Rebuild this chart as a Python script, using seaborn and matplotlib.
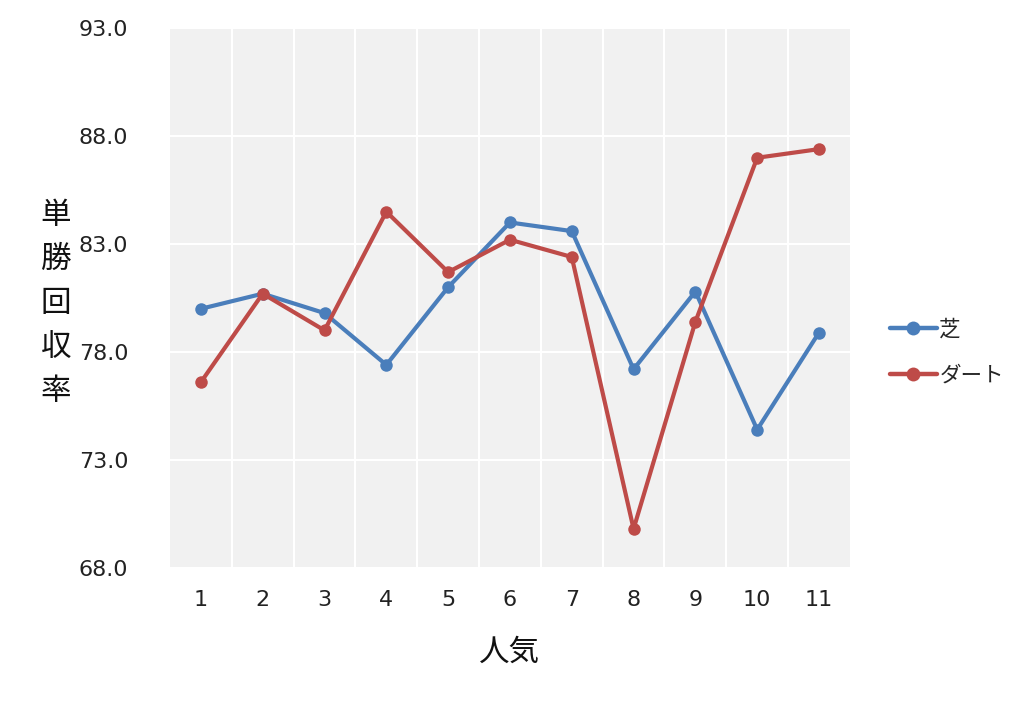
import numpy as np
import pandas as pd
import matplotlib
matplotlib.use('Agg')
import matplotlib.pyplot as plt
from matplotlib.ticker import FixedLocator
import seaborn as sns

# data
ninki = [1, 2, 3, 4, 5, 6, 7, 8, 9, 10, 11]
shiba = [80.0, 80.7, 79.8, 77.4, 81.0, 84.0, 83.6, 77.2, 80.8, 74.4, 78.9]
dirt = [76.6, 80.7, 79.0, 84.5, 81.7, 83.2, 82.4, 69.8, 79.4, 87.0, 87.4]
series_names = ['芝', 'ダート']
y_ticks = [68.0, 73.0, 78.0, 83.0, 88.0, 93.0]
colors = ['#4a7ebb', '#be4b48']

df = pd.DataFrame({
    'ninki': ninki * 2,
    'value': shiba + dirt,
    'course': [series_names[0]] * len(ninki) + [series_names[1]] * len(ninki),
})

sns.set_theme(style='darkgrid', rc={
    'axes.facecolor': '#f1f1f1',
    'grid.color': 'white',
    'grid.linewidth': 1.5,
})
plt.rcParams['font.family'] = ['DejaVu Sans', 'Noto Sans CJK JP']

fig, ax = plt.subplots(figsize=(10.24, 7.07), dpi=100)
fig.subplots_adjust(left=0.166, right=0.830, top=0.960, bottom=0.197)

sns.lineplot(data=df, x='ninki', y='value', hue='course', palette=colors,
             marker='o', markersize=9, markeredgewidth=0, linewidth=3, ax=ax)

ax.set_xlim(0.5, 11.5)
ax.set_ylim(68, 93)
ax.set_xticks(ninki)
ax.set_xticklabels([str(n) for n in ninki])
ax.xaxis.set_minor_locator(FixedLocator(np.arange(1.5, 11, 1.0)))
ax.set_yticks(y_ticks)
ax.set_yticklabels([f'{v:.1f}' for v in y_ticks])
ax.grid(False, axis='x', which='major')
ax.grid(True, axis='x', which='minor', color='white', linewidth=1.5)
ax.grid(True, axis='y', which='major', color='white', linewidth=1.5)
ax.tick_params(axis='both', which='both', length=0, labelsize=16, colors='#222222')
ax.tick_params(axis='x', pad=16)
ax.tick_params(axis='y', pad=30)
for s in ax.spines.values():
    s.set_visible(False)

ax.set_xlabel('人気', fontsize=22, labelpad=20, color='#111111')
ax.set_ylabel('単\n勝\n回\n収\n率', fontsize=22, rotation=0, va='center',
              linespacing=1.65, color='#111111')
ax.yaxis.set_label_coords(-0.168, 0.49)

leg = ax.legend(loc='center left', bbox_to_anchor=(1.03, 0.40), frameon=False,
                fontsize=15.5, handlelength=2.2, handletextpad=0.1, labelspacing=1.2)
for h in leg.legend_handles:
    h.set_linewidth(3.2)
    h.set_markersize(10)

fig.savefig('out.png', dpi=100, facecolor='white')
